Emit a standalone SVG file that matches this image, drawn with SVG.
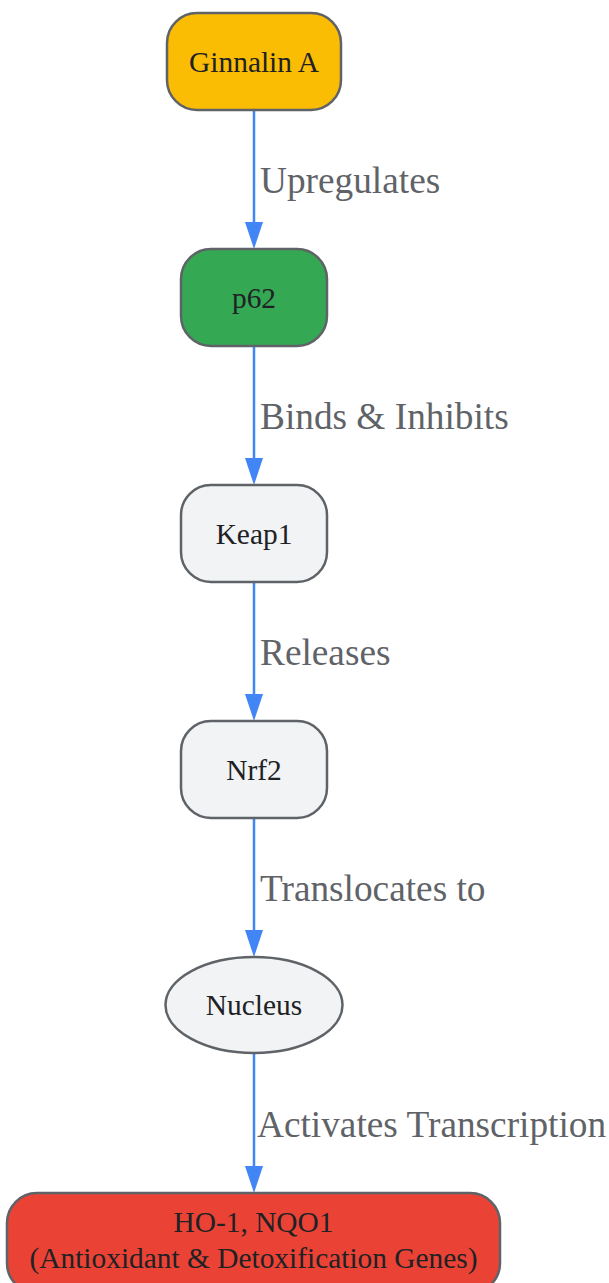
<svg xmlns="http://www.w3.org/2000/svg" width="609" height="1283" viewBox="0 0 609 1283">
  <style>
    .node { stroke: #5f6368; stroke-width: 2.5; }
    .ntext { font-family: "Liberation Serif", "Times New Roman", serif; font-size: 29.4px; fill: #202124; text-anchor: middle; }
    .edge { stroke: #4285F4; stroke-width: 2.5; fill: none; }
    .arrowhead { fill: #4285F4; }
    .elabel { font-family: "Liberation Serif", "Times New Roman", serif; font-size: 37.3px; fill: #5f6368; }
  </style>
  <rect width="609" height="1283" fill="#ffffff"/>
  <g id="connectors">
    <g id="e1">
      <line class="edge" x1="254" y1="110" x2="254" y2="226"/>
      <polygon class="arrowhead" points="245,222 263,222 254,249"/>
      <text class="elabel" x="260" y="193">Upregulates</text>
    </g>
    <g id="e2">
      <line class="edge" x1="254" y1="346" x2="254" y2="462"/>
      <polygon class="arrowhead" points="245,458 263,458 254,485"/>
      <text class="elabel" x="260" y="429">Binds &amp; Inhibits</text>
    </g>
    <g id="e3">
      <line class="edge" x1="254" y1="582" x2="254" y2="698"/>
      <polygon class="arrowhead" points="245,694 263,694 254,721"/>
      <text class="elabel" x="260" y="665">Releases</text>
    </g>
    <g id="e4">
      <line class="edge" x1="254" y1="818" x2="254" y2="934"/>
      <polygon class="arrowhead" points="245,930 263,930 254,957"/>
      <text class="elabel" x="260" y="901">Translocates to</text>
    </g>
    <g id="e5">
      <line class="edge" x1="254" y1="1053" x2="254" y2="1170"/>
      <polygon class="arrowhead" points="245,1166 263,1166 254,1193"/>
      <text class="elabel" x="257" y="1137">Activates Transcription</text>
    </g>
  </g>
  <g id="ginnalin">
    <rect class="node" x="167" y="13" width="174" height="97" rx="30" fill="#FBBC04"/>
    <text class="ntext" x="254" y="71.5">Ginnalin A</text>
  </g>
  <g id="p62">
    <rect class="node" x="181" y="249" width="146" height="97" rx="30" fill="#34A853"/>
    <text class="ntext" x="254" y="307.5">p62</text>
  </g>
  <g id="keap1">
    <rect class="node" x="181" y="485" width="146" height="97" rx="30" fill="#F1F3F4"/>
    <text class="ntext" x="254" y="543.5">Keap1</text>
  </g>
  <g id="nrf2">
    <rect class="node" x="181" y="721" width="146" height="97" rx="30" fill="#F1F3F4"/>
    <text class="ntext" x="254" y="779.5">Nrf2</text>
  </g>
  <g id="nucleus">
    <ellipse class="node" cx="254" cy="1005" rx="88.5" ry="48" fill="#F1F3F4"/>
    <text class="ntext" x="254" y="1015">Nucleus</text>
  </g>
  <g id="genes">
    <rect class="node" x="7" y="1193" width="493" height="100" rx="30" fill="#EA4335"/>
    <text class="ntext" x="253.5" y="1232">HO-1, NQO1</text>
    <text class="ntext" x="253.5" y="1268">(Antioxidant &amp; Detoxification Genes)</text>
  </g>
</svg>
